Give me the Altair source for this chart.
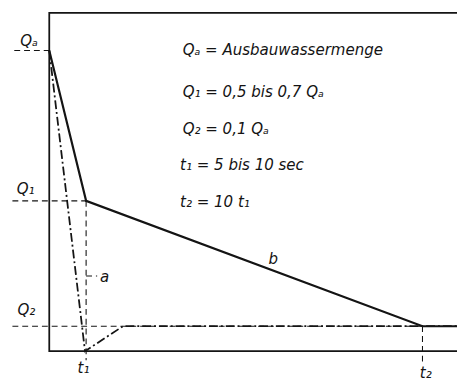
import altair as alt
import pandas as pd

# --- values (t in units of t1, Q in units of Qa) ---
T1, T2, TEND = 1.0, 10.13, 11.2
QA, Q1, Q2 = 1.0, 0.5, 0.083
QTOP = 1.125

frame_t = [TEND, 0.0, 0.0, TEND]
frame_q = [QTOP, QTOP, 0.0, 0.0]

b_t = [0.0, T1, T2, TEND]
b_q = [QA, Q1, Q2, Q2]

a_t = [0.0, 0.97, 2.0, TEND]
a_q = [QA, 0.0, Q2, Q2]

guide_t = [-0.95, -1.0, -1.0, T1, T2, T1]
guide_t2 = [0.0, T1, T2, T1, T2, 1.3]
guide_q = [QA, Q1, Q2, Q1, Q2, 0.25]
guide_q2 = [QA, Q1, Q2, -0.03, -0.035, 0.25]

lab_text = ["Qₐ", "Q₁", "Q₂", "t₁", "t₂", "a", "b"]
lab_t = [-0.55, -0.64, -0.62, 0.93, 10.22, 1.5, 6.08]
lab_q = [1.03, 0.538, 0.136, -0.055, -0.074, 0.245, 0.305]

legend_text = ["Qₐ = Ausbauwassermenge", "Q₁ = 0,5 bis 0,7 Qₐ", "Q₂ = 0,1 Qₐ",
               "t₁ = 5 bis 10 sec", "t₂ = 10 t₁"]
legend_q = [1.0, 0.863, 0.739, 0.618, 0.497]
legend_t = [3.62, 3.62, 3.62, 3.55, 3.55]

W, H = 457, 370
x0, kx = 42.0, 37.5
y0, ky = 346.0, 306.0
xdom = [-x0 / kx, (W - x0) / kx]
ydom = [-(H - y0) / ky, y0 / ky]

xs = alt.Scale(domain=xdom, nice=False, zero=False)
ys = alt.Scale(domain=ydom, nice=False, zero=False)
X = lambda f: alt.X(f, type="quantitative", scale=xs, axis=None)
Y = lambda f: alt.Y(f, type="quantitative", scale=ys, axis=None)

INK = "#141414"
FONT = "DejaVu Sans Condensed"

frame = pd.DataFrame({"t": frame_t, "q": frame_q, "o": range(4)})
bdf = pd.DataFrame({"t": b_t, "q": b_q, "o": range(4)})
adf = pd.DataFrame({"t": a_t, "q": a_q, "o": range(4)})
gdf = pd.DataFrame({"t": guide_t, "t2": guide_t2, "q": guide_q, "q2": guide_q2})
ldf = pd.DataFrame({"label": lab_text, "t": lab_t, "q": lab_q})
tdf = pd.DataFrame({"label": legend_text, "t": legend_t, "q": legend_q})

frame_l = alt.Chart(frame).mark_line(color=INK, strokeWidth=1.8, clip=True).encode(
    x=X("t"), y=Y("q"), order="o:Q")
b_l = alt.Chart(bdf).mark_line(color=INK, strokeWidth=2.2, clip=True).encode(
    x=X("t"), y=Y("q"), order="o:Q")
a_l = alt.Chart(adf).mark_line(color=INK, strokeWidth=1.8, strokeDash=[9, 3, 2, 3], clip=True).encode(
    x=X("t"), y=Y("q"), order="o:Q")
g_l = alt.Chart(gdf).mark_rule(color=INK, strokeWidth=1.1, strokeDash=[6, 4], clip=True).encode(
    x=X("t"), x2="t2", y=Y("q"), y2="q2")
lab = alt.Chart(ldf).mark_text(color=INK, font=FONT, fontStyle="italic", fontSize=17,
                               align="center", baseline="middle").encode(
    x=X("t"), y=Y("q"), text="label")
leg = alt.Chart(tdf).mark_text(color=INK, font=FONT, fontStyle="italic", fontSize=17,
                               align="left", baseline="middle").encode(
    x=X("t"), y=Y("q"), text="label")

chart = alt.layer(frame_l, g_l, a_l, b_l, lab, leg).properties(
    width=W, height=H, padding=0, autosize=alt.AutoSizeParams(type="none"),
    background="white"
).configure_view(stroke=None)

chart.save("out.html", embed_options={"renderer": "svg", "actions": False})
